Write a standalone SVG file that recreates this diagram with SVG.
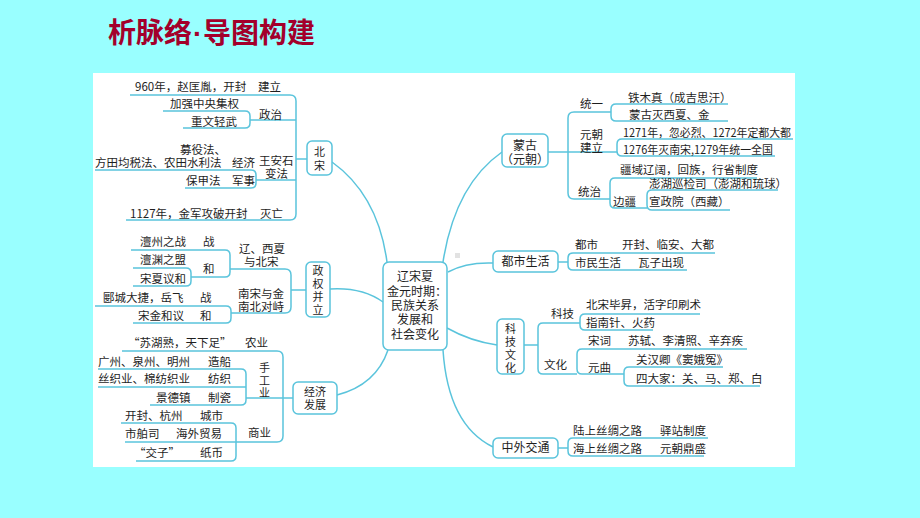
<svg xmlns="http://www.w3.org/2000/svg" width="920" height="518" viewBox="0 0 920 518">
<style>
.bg{fill:#99ffff}
.panel{fill:#ffffff}
.ln{fill:none;stroke:#5ac4dc;stroke-width:1.5}
.box{fill:#ffffff;stroke:#5ac4dc;stroke-width:1.5}
.t{font-family:"Noto Sans CJK SC","Noto Sans",sans-serif;font-size:11.5px;fill:#1e1e1e}
.n{font-family:"Noto Sans CJK SC","Noto Sans",sans-serif;font-size:12px;fill:#1e1e1e;text-anchor:middle}
.v{font-size:11px}
.title{font-family:"Noto Sans CJK SC","Noto Sans",sans-serif;font-size:28px;font-weight:bold;fill:#a3002b}
</style>
<rect class="bg" x="0" y="0" width="920" height="518"/>
<rect class="panel" x="93" y="73" width="702" height="394"/>
<text class="title" x="108" y="43">析脉络<tspan x="193" font-family="Liberation Sans, sans-serif">·</tspan><tspan x="203">导图构建</tspan></text>
<rect x="455" y="253" width="5" height="5" fill="#e2e2e2"/>

<g id="connectors">
<path class="ln" d="M332,162 Q378,195 387,262"/>
<path class="ln" d="M330,289 Q362,287 383,302"/>
<path class="ln" d="M337,395 Q376,385 388,350"/>
<path class="ln" d="M443,262 Q455,185 502,152"/>
<path class="ln" d="M448,272 Q466,262 493,263"/>
<path class="ln" d="M447,328 Q470,341 497,345"/>
<path class="ln" d="M443,350 Q448,425 493,447"/>
<!-- 北宋 -->
<path class="ln" d="M130,95 H290 Q296,95 296,101 V214 Q296,220 290,220 H126"/>
<path class="ln" d="M296,159 H307"/>
<path class="ln" d="M250,120 H296"/>
<path class="ln" d="M163,111 H245 Q250,111 250,116 V123 Q250,128 245,128 H183"/>
<path class="ln" d="M256,180 H296"/>
<path class="ln" d="M95,170 H251 Q256,170 256,175 V183 Q256,188 251,188 H185"/>
<!-- 政权并立 -->
<path class="ln" d="M230,269 H285 Q291,269 291,275 V307 Q291,313 285,313 H231"/>
<path class="ln" d="M291,290 H306"/>
<path class="ln" d="M131,250 H225 Q230,250 230,255 V272 Q230,277 225,277 H191"/>
<path class="ln" d="M133,268 H186 Q191,268 191,273 V281 Q191,286 186,286 H133"/>
<path class="ln" d="M95,306 H226 Q231,306 231,311 V318 Q231,323 226,323 H133"/>
<!-- 经济发展 -->
<path class="ln" d="M122,351 H277 Q283,351 283,357 V436 Q283,442 277,442 H236"/>
<path class="ln" d="M246,398 H293"/>
<path class="ln" d="M98,369 H241 Q246,369 246,374 V400 Q246,405 241,405 H150"/>
<path class="ln" d="M98,387 H246"/>
<path class="ln" d="M121,423 H231 Q236,423 236,428 V456 Q236,461 231,461 H136"/>
<path class="ln" d="M125,442 H236"/>
<!-- 蒙古 -->
<path class="ln" d="M611,112 H574 Q568,112 568,118 V193 Q568,199 574,199 H610"/>
<path class="ln" d="M548,152 H617"/>
<path class="ln" d="M728,104 H616 Q611,104 611,109 V116 Q611,121 616,121 H728"/>
<path class="ln" d="M793,139 H622 Q617,139 617,144 V151 Q617,156 622,156 H775"/>
<path class="ln" d="M757,178 H615 Q610,178 610,183 V203 Q610,208 615,208 H647"/>
<path class="ln" d="M778,190 H652 Q647,190 647,195 V205 Q647,210 652,210 H730"/>
<!-- 都市生活 -->
<path class="ln" d="M558,262 H568"/>
<path class="ln" d="M715,253 H573 Q568,253 568,258 V265 Q568,270 573,270 H687"/>
<!-- 科技文化 -->
<path class="ln" d="M524,345 H538"/>
<path class="ln" d="M580,323 H543 Q538,323 538,328 V369 Q538,374 543,374 H577"/>
<path class="ln" d="M700,314 H585 Q580,314 580,319 V325 Q580,330 585,330 H653"/>
<path class="ln" d="M747,349 H582 Q577,349 577,354 V369 Q577,374 582,374 H624"/>
<path class="ln" d="M723,367 H629 Q624,367 624,372 V381 Q624,386 629,386 H760"/>
<!-- 中外交通 -->
<path class="ln" d="M558,448 H568"/>
<path class="ln" d="M708,438 H573 Q568,438 568,443 V451 Q568,456 573,456 H704"/>
</g>

<g id="center">
<rect class="box" x="383" y="262" width="64" height="88" rx="6"/>
<text class="n" x="415" y="281">辽宋夏</text>
<text class="n" x="417" y="296">金元时期：</text>
<text class="n" x="415" y="310">民族关系</text>
<text class="n" x="415" y="324">发展和</text>
<text class="n" x="415" y="339">社会变化</text>
</g>

<g id="beisong">
<rect class="box" x="307" y="141" width="25" height="34" rx="5"/>
<text class="n v" x="319.5" y="156">北</text>
<text class="n v" x="319.5" y="170">宋</text>
<text class="t" x="135" y="91">960年，赵匡胤，开封</text>
<text class="t" x="258" y="91">建立</text>
<text class="t" x="170" y="108">加强中央集权</text>
<text class="t" x="259" y="119">政治</text>
<text class="t" x="191" y="126">重文轻武</text>
<text class="t" x="180" y="154">募役法、</text>
<text class="t" x="95" y="167">方田均税法、农田水利法</text>
<text class="t" x="232" y="167">经济</text>
<text class="t" x="259" y="165">王安石</text>
<text class="t" x="265" y="178">变法</text>
<text class="t" x="186" y="185">保甲法</text>
<text class="t" x="232" y="185">军事</text>
<text class="t" x="130" y="218">1127年，金军攻破开封</text>
<text class="t" x="260" y="218">灭亡</text>
</g>

<g id="zhengquan">
<rect class="box" x="306" y="262" width="24" height="55" rx="5"/>
<text class="n v" x="318" y="275">政</text>
<text class="n v" x="318" y="288">权</text>
<text class="n v" x="318" y="301">并</text>
<text class="n v" x="318" y="314">立</text>
<text class="t" x="140" y="246">澶州之战</text>
<text class="t" x="203" y="246">战</text>
<text class="t" x="239" y="253">辽、西夏</text>
<text class="t" x="244" y="266">与北宋</text>
<text class="t" x="140" y="264">澶渊之盟</text>
<text class="t" x="203" y="273">和</text>
<text class="t" x="140" y="283">宋夏议和</text>
<text class="t" x="238" y="298">南宋与金</text>
<text class="t" x="238" y="311">南北对峙</text>
<text class="t" x="103" y="302">郾城大捷，岳飞</text>
<text class="t" x="200" y="302">战</text>
<text class="t" x="138" y="320">宋金和议</text>
<text class="t" x="200" y="320">和</text>
</g>

<g id="jingji">
<rect class="box" x="293" y="382" width="44" height="32" rx="5"/>
<text class="n v" x="315" y="396">经济</text>
<text class="n v" x="315" y="409">发展</text>
<text class="t" x="128" y="347">“苏湖熟，天下足”</text>
<text class="t" x="245" y="347">农业</text>
<text class="t" x="98" y="366">广州、泉州、明州</text>
<text class="t" x="208" y="366">造船</text>
<text class="t" x="98" y="383">丝织业、棉纺织业</text>
<text class="t" x="208" y="383">纺织</text>
<text class="t" x="156" y="402">景德镇</text>
<text class="t" x="208" y="402">制瓷</text>
<text class="t v" x="259" y="372">手</text>
<text class="t v" x="259" y="384.5">工</text>
<text class="t v" x="259" y="397">业</text>
<text class="t" x="125" y="420">开封、杭州</text>
<text class="t" x="200" y="420">城市</text>
<text class="t" x="125" y="438">市舶司</text>
<text class="t" x="176" y="438">海外贸易</text>
<text class="t" x="248" y="437">商业</text>
<text class="t" x="134" y="457">“交子”</text>
<text class="t" x="200" y="457">纸币</text>
</g>

<g id="menggu">
<rect class="box" x="502" y="134" width="46" height="33" rx="5"/>
<text class="n" x="525" y="150">蒙古</text>
<text class="n" x="525" y="164">（元朝）</text>
<text class="t" x="580" y="108">统一</text>
<text class="t" x="628" y="102">铁木真（成吉思汗）</text>
<text class="t" x="629" y="119">蒙古灭西夏、金</text>
<text class="t" x="580" y="139">元朝</text>
<text class="t" x="580" y="152">建立</text>
<text class="t" x="623" y="137" textLength="168" lengthAdjust="spacingAndGlyphs">1271年，忽必烈、1272年定都大都</text>
<text class="t" x="623" y="154" textLength="150" lengthAdjust="spacingAndGlyphs">1276年灭南宋,1279年统一全国</text>
<text class="t" x="620" y="174">疆域辽阔，回族，行省制度</text>
<text class="t" x="578" y="196">统治</text>
<text class="t" x="649" y="188">澎湖巡检司（澎湖和琉球）</text>
<text class="t" x="613" y="206">边疆</text>
<text class="t" x="649" y="206">宣政院（西藏）</text>
</g>

<g id="dushi">
<rect class="box" x="493" y="251" width="65" height="21" rx="5"/>
<text class="n" x="525.5" y="266">都市生活</text>
<text class="t" x="575" y="249">都市</text>
<text class="t" x="622" y="249">开封、临安、大都</text>
<text class="t" x="575" y="267">市民生活</text>
<text class="t" x="638" y="267">瓦子出现</text>
</g>

<g id="keji">
<rect class="box" x="497" y="319" width="27" height="55" rx="5"/>
<text class="n v" x="510.5" y="333">科</text>
<text class="n v" x="510.5" y="346">技</text>
<text class="n v" x="510.5" y="359">文</text>
<text class="n v" x="510.5" y="372">化</text>
<text class="t" x="551" y="318">科技</text>
<text class="t" x="586" y="309">北宋毕昇，活字印刷术</text>
<text class="t" x="586" y="327">指南针、火药</text>
<text class="t" x="588" y="345">宋词</text>
<text class="t" x="628" y="345">苏轼、李清照、辛弃疾</text>
<text class="t" x="544" y="369">文化</text>
<text class="t" x="588" y="372">元曲</text>
<text class="t" x="636" y="364">关汉卿《窦娥冤》</text>
<text class="t" x="636" y="383">四大家：关、马、郑、白</text>
</g>

<g id="zhongwai">
<rect class="box" x="493" y="438" width="65" height="20" rx="5"/>
<text class="n" x="525.5" y="452">中外交通</text>
<text class="t" x="573" y="435">陆上丝绸之路</text>
<text class="t" x="660" y="435">驿站制度</text>
<text class="t" x="573" y="453">海上丝绸之路</text>
<text class="t" x="660" y="453">元朝鼎盛</text>
</g>
</svg>
